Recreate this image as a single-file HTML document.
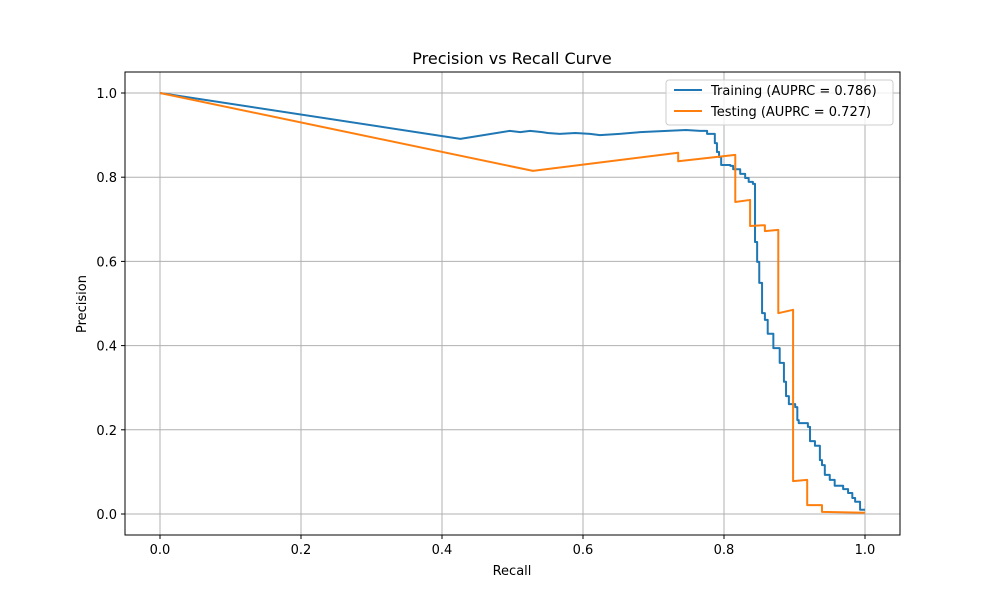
<!DOCTYPE html>
<html><head><meta charset="utf-8"><style>
body{margin:0;background:#fff;font-family:"Liberation Sans","DejaVu Sans",sans-serif}
svg text{font-family:"DejaVu Sans","Liberation Sans",sans-serif}
</style></head><body>
<svg id="chart" width="1000" height="600" xmlns="http://www.w3.org/2000/svg">
<rect width="1000" height="600" fill="#fff"/>
<g id="grid"></g>
<g id="axes"></g>
<g id="series"></g>
<text x="512" y="64" text-anchor="middle" font-size="16">Precision vs Recall Curve</text>
<text x="512" y="575" text-anchor="middle" font-size="13">Recall</text>
<text x="86" y="304" text-anchor="middle" font-size="13" transform="rotate(-90 86 304)">Precision</text>
<g>
<rect x="666" y="80" width="227" height="45" rx="3" fill="#fff" fill-opacity="0.8" stroke="#ccc"/>
<g><line x1="674" y1="90" x2="702" y2="90" stroke="#1f77b4" stroke-width="2"/><text x="711" y="95" font-size="13">Training (AUPRC = 0.786)</text></g>
<g><line x1="674" y1="111" x2="702" y2="111" stroke="#ff7f0e" stroke-width="2"/><text x="711" y="116" font-size="13">Testing (AUPRC = 0.727)</text></g>
</g>
</svg>
<script>
const xTicks=[0,0.2,0.4,0.6,0.8,1.0];
const yTicks=[0,0.2,0.4,0.6,0.8,1.0];
const trainRecall=[0,0.426,0.496,0.511,0.525,0.542,0.550,0.567,0.589,0.610,0.624,0.652,0.681,0.746,0.766,0.776,0.776,0.787,0.787,0.790,0.793,0.796,0.809,0.813,0.823,0.830,0.835,0.841,0.844,0.844,0.847,0.850,0.854,0.858,0.862,0.870,0.879,0.885,0.888,0.892,0.901,0.904,0.906,0.919,0.922,0.929,0.936,0.939,0.943,0.950,0.957,0.969,0.976,0.982,0.986,0.993,1.0];
const trainPrecision=[1,0.891,0.910,0.907,0.910,0.907,0.905,0.903,0.905,0.903,0.900,0.903,0.907,0.912,0.910,0.910,0.903,0.903,0.881,0.860,0.848,0.829,0.827,0.819,0.808,0.798,0.789,0.784,0.770,0.646,0.599,0.549,0.477,0.461,0.428,0.394,0.359,0.314,0.280,0.261,0.254,0.223,0.216,0.207,0.173,0.162,0.128,0.116,0.093,0.081,0.067,0.059,0.050,0.038,0.029,0.010,0.010];
const testRecall=[0,0.529,0.735,0.735,0.816,0.816,0.837,0.837,0.858,0.858,0.877,0.877,0.898,0.898,0.918,0.918,0.939,0.939,1.0];
const testPrecision=[1,0.815,0.858,0.838,0.853,0.741,0.746,0.684,0.686,0.672,0.675,0.477,0.485,0.078,0.081,0.021,0.021,0.005,0.003];
const X=v=>160+v*705, Y=v=>514-v*421;
const NS="http://www.w3.org/2000/svg";
const grid=document.getElementById('grid'),axes=document.getElementById('axes'),ser=document.getElementById('series');
function mk(tag,attrs,parent){const e=document.createElementNS(NS,tag);for(const k in attrs)e.setAttribute(k,attrs[k]);parent.appendChild(e);return e;}
xTicks.forEach(t=>{
  const g=mk('line',{x1:X(t),x2:X(t),y1:72,y2:535,stroke:'#b0b0b0','stroke-width':1},grid);
  
  
  mk('line',{x1:X(t),x2:X(t),y1:535,y2:539,stroke:'#000'},axes);
  const tx=mk('text',{x:X(t),y:554,'text-anchor':'middle','font-size':13},axes);
  tx.textContent=t.toFixed(1);
  
  
});
yTicks.forEach(t=>{
  const g=mk('line',{x1:125,x2:900,y1:Y(t),y2:Y(t),stroke:'#b0b0b0','stroke-width':1},grid);
  
  
  mk('line',{x1:121,x2:125,y1:Y(t),y2:Y(t),stroke:'#000'},axes);
  const tx=mk('text',{x:117,y:Y(t)+5,'text-anchor':'end','font-size':13},axes);
  tx.textContent=t.toFixed(1);
  
  
});
const fr=mk('rect',{x:125,y:72,width:775,height:463,fill:'none',stroke:'#000','stroke-width':1},axes);


let d='M'+X(trainRecall[0])+','+Y(trainPrecision[0]);
for(let i=1;i<trainRecall.length;i++){
  if(i<=15) d+=' L'+X(trainRecall[i])+','+Y(trainPrecision[i]);
  else d+=' L'+X(trainRecall[i])+','+Y(trainPrecision[i-1])+' L'+X(trainRecall[i])+','+Y(trainPrecision[i]);
}
const p1=mk('path',{d:d,fill:'none',stroke:'#1f77b4','stroke-width':2,'stroke-linejoin':'round'},ser);


let d2=testRecall.map((r,i)=>(i?'L':'M')+X(r)+','+Y(testPrecision[i])).join(' ');
const p2=mk('path',{d:d2,fill:'none',stroke:'#ff7f0e','stroke-width':2,'stroke-linejoin':'round'},ser);


</script>
</body></html>
